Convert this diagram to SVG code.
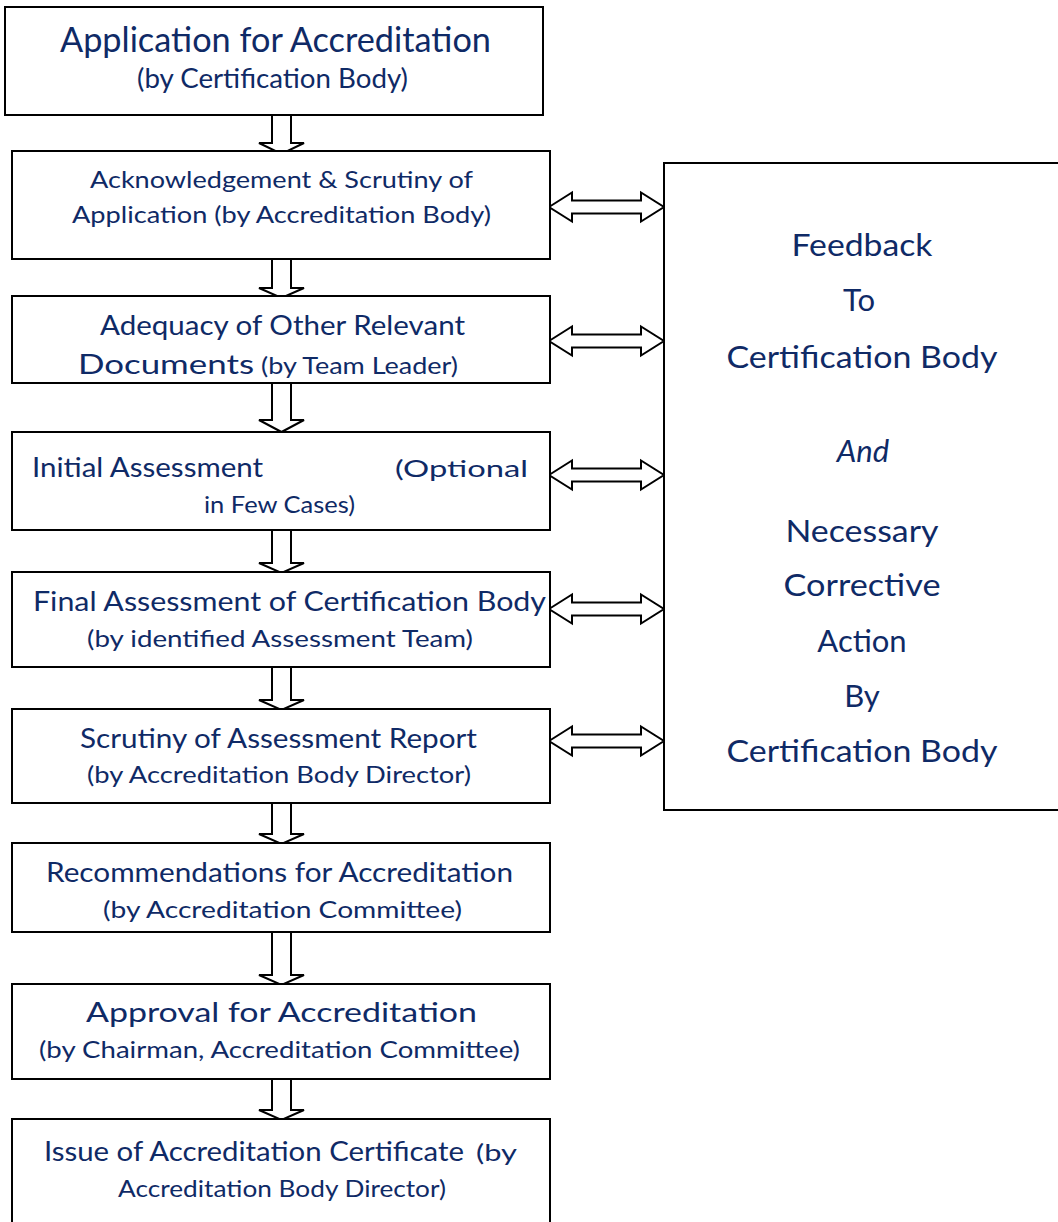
<svg xmlns="http://www.w3.org/2000/svg" width="1058" height="1222" viewBox="0 0 1058 1222">
<style>
.box{fill:#fff;stroke:#000;stroke-width:2}
.arr{fill:#fff;stroke:#000;stroke-width:2;stroke-linejoin:miter}
text{font-family:Lato,"Open Sans","Liberation Sans",sans-serif;fill:#0f2a66}
.t{font-size:34px}
.l{font-size:27px}
.m{font-size:26px}
.s{font-size:24px}
.r{font-size:31px;text-anchor:middle}
</style>
<rect width="1058" height="1222" fill="#fff"/>
<g id="connectors">
<polygon class="arr" points="272,115 291,115 291,143 304,143 281.5,154 259,143 272,143"/>
<polygon class="arr" points="272,259 291,259 291,288 304,288 281.5,298 259,288 272,288"/>
<polygon class="arr" points="272,383 291,383 291,420 304,420 281.5,432 259,420 272,420"/>
<polygon class="arr" points="272,530 291,530 291,563 304,563 281.5,573 259,563 272,563"/>
<polygon class="arr" points="272,667 291,667 291,700 304,700 281.5,710 259,700 272,700"/>
<polygon class="arr" points="272,803 291,803 291,834 304,834 281.5,844 259,834 272,834"/>
<polygon class="arr" points="272,932 291,932 291,975 304,975 281.5,985 259,975 272,975"/>
<polygon class="arr" points="272,1079 291,1079 291,1110 304,1110 281.5,1120 259,1110 272,1110"/>
<polygon class="arr" points="549,207 572,192.5 572,200.5 641,200.5 641,192.5 664,207 641,221.5 641,213.5 572,213.5 572,221.5"/>
<polygon class="arr" points="549,341 572,326.5 572,334.5 641,334.5 641,326.5 664,341 641,355.5 641,347.5 572,347.5 572,355.5"/>
<polygon class="arr" points="549,475 572,460.5 572,468.5 641,468.5 641,460.5 664,475 641,489.5 641,481.5 572,481.5 572,489.5"/>
<polygon class="arr" points="549,609 572,594.5 572,602.5 641,602.5 641,594.5 664,609 641,623.5 641,615.5 572,615.5 572,623.5"/>
<polygon class="arr" points="549,741 572,726.5 572,734.5 641,734.5 641,726.5 664,741 641,755.5 641,747.5 572,747.5 572,755.5"/>
</g>
<g id="n1">
<rect class="box" x="5" y="7" width="538" height="108"/>
<text class="t" x="60" y="52" textLength="431" lengthAdjust="spacingAndGlyphs">Application for Accreditation</text>
<text class="l" x="137" y="88" textLength="271" lengthAdjust="spacingAndGlyphs">(by Certification Body)</text>
</g>
<g id="n2">
<rect class="box" x="12" y="151" width="538" height="108"/>
<text class="s" x="90" y="188" textLength="383" lengthAdjust="spacingAndGlyphs">Acknowledgement &amp; Scrutiny of</text>
<text class="s" x="72" y="223" textLength="419" lengthAdjust="spacingAndGlyphs">Application (by Accreditation Body)</text>
</g>
<g id="n3">
<rect class="box" x="12" y="296" width="538" height="87"/>
<text class="m" x="100" y="335" textLength="365" lengthAdjust="spacingAndGlyphs">Adequacy of Other Relevant</text>
<text class="m" x="78" y="374" textLength="176" lengthAdjust="spacingAndGlyphs">Documents</text>
<text class="s" x="261" y="374" textLength="197" lengthAdjust="spacingAndGlyphs">(by Team Leader)</text>
</g>
<g id="n4">
<rect class="box" x="12" y="432" width="538" height="98"/>
<text class="m" x="32" y="477" textLength="231" lengthAdjust="spacingAndGlyphs">Initial Assessment</text>
<text class="s" x="395" y="477" textLength="133" lengthAdjust="spacingAndGlyphs">(Optional</text>
<text class="s" x="204" y="513" textLength="151" lengthAdjust="spacingAndGlyphs">in Few Cases)</text>
</g>
<g id="n5">
<rect class="box" x="12" y="572" width="538" height="95"/>
<text class="m" x="33" y="611" textLength="513" lengthAdjust="spacingAndGlyphs">Final Assessment of Certification Body</text>
<text class="s" x="87" y="647" textLength="386" lengthAdjust="spacingAndGlyphs">(by identified Assessment Team)</text>
</g>
<g id="n6">
<rect class="box" x="12" y="709" width="538" height="94"/>
<text class="m" x="80" y="748" textLength="397" lengthAdjust="spacingAndGlyphs">Scrutiny of Assessment Report</text>
<text class="s" x="87" y="783" textLength="384" lengthAdjust="spacingAndGlyphs">(by Accreditation Body Director)</text>
</g>
<g id="n7">
<rect class="box" x="12" y="843" width="538" height="89"/>
<text class="l" x="46" y="882" textLength="467" lengthAdjust="spacingAndGlyphs">Recommendations for Accreditation</text>
<text class="s" x="103" y="918" textLength="359" lengthAdjust="spacingAndGlyphs">(by Accreditation Committee)</text>
</g>
<g id="n8">
<rect class="box" x="12" y="984" width="538" height="95"/>
<text class="l" x="86" y="1022" textLength="391" lengthAdjust="spacingAndGlyphs">Approval for Accreditation</text>
<text class="s" x="39" y="1058" textLength="481" lengthAdjust="spacingAndGlyphs">(by Chairman, Accreditation Committee)</text>
</g>
<g id="n9">
<rect class="box" x="12" y="1119" width="538" height="110"/>
<text class="l" x="44" y="1161" textLength="420" lengthAdjust="spacingAndGlyphs">Issue of Accreditation Certificate</text>
<text class="s" x="476" y="1161" textLength="41" lengthAdjust="spacingAndGlyphs">(by</text>
<text class="s" x="118" y="1197" textLength="328" lengthAdjust="spacingAndGlyphs">Accreditation Body Director)</text>
</g>
<g id="feedback">
<rect class="box" x="664" y="163" width="400" height="647"/>
<text class="r" x="862" y="256" textLength="141" lengthAdjust="spacingAndGlyphs">Feedback</text>
<text class="r" x="859" y="311">To</text>
<text class="r" x="862" y="368" textLength="271" lengthAdjust="spacingAndGlyphs">Certification Body</text>
<text class="r" x="863" y="462" font-style="italic">And</text>
<text class="r" x="862" y="542" textLength="153" lengthAdjust="spacingAndGlyphs">Necessary</text>
<text class="r" x="862" y="596" textLength="157" lengthAdjust="spacingAndGlyphs">Corrective</text>
<text class="r" x="862" y="652">Action</text>
<text class="r" x="862" y="707">By</text>
<text class="r" x="862" y="762" textLength="271" lengthAdjust="spacingAndGlyphs">Certification Body</text>
</g>
</svg>
